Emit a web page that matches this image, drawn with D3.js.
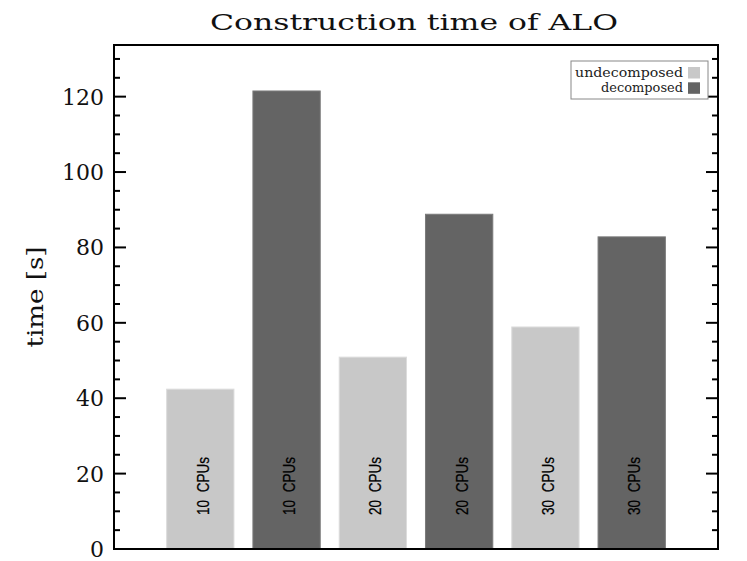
<!DOCTYPE html>
<html><head><meta charset="utf-8">
<script src="https://cdn.jsdelivr.net/npm/d3@7"></script>
<style>body{margin:0;background:#fff}svg{display:block}</style>
</head><body>
<script>
const categories = ["10 CPUs", "20 CPUs", "30 CPUs"];
const seriesNames = ["undecomposed", "decomposed"];
const undecomposed = [42.4, 50.9, 58.9];
const decomposed = [121.5, 88.8, 82.8];
const yTicks = [0, 20, 40, 60, 80, 100, 120];
const colors = ["#c8c8c8", "#646464"];

const W = 747, H = 561;
const L = 114, R = 718, T = 45, B = 549;
const svg = d3.select("body").append("svg").attr("width", W).attr("height", H);

const serif = "'DejaVu Serif', serif";
const x = d3.scaleLinear().domain([0, 7]).range([L, R]);
const y = d3.scaleLinear().domain([0, 133.7]).range([B, T]);
const step = x(1) - x(0);
const bw = step * 0.78;

const bars = [];
categories.forEach((c, i) => {
  bars.push({cat: c, s: 0, v: undecomposed[i], slot: 1 + 2 * i});
  bars.push({cat: c, s: 1, v: decomposed[i], slot: 2 + 2 * i});
});

svg.selectAll("rect.bar").data(bars).enter().append("rect")
  .attr("class", "bar")
  .attr("x", d => x(d.slot) - bw / 2)
  .attr("width", bw)
  .attr("y", d => y(d.v))
  .attr("height", d => y(0) - y(d.v))
  .attr("fill", d => colors[d.s])
  .attr("stroke", d => d.s ? "#7a7a7a" : "#dcdcdc")
  .attr("stroke-width", 1);

// bar labels
const labelVal = 16.7;
svg.selectAll("text.bl").data(bars).enter().append("text")
  .attr("class", "bl")
  .attr("transform", d => `translate(${x(d.slot) + 8.5},${y(labelVal)}) rotate(-90) scale(1,1.2)`)
  .attr("text-anchor", "middle")
  .attr("font-family", "'Liberation Sans', Arial, sans-serif")
  .attr("font-size", 13.5)
  .style("word-spacing", "4px")
  .attr("fill", "#000")
  .attr("stroke", "#000").attr("stroke-width", 0.2)
  .text(d => d.cat);

// frame
svg.append("rect").attr("x", L).attr("y", T).attr("width", R - L).attr("height", B - T)
  .attr("fill", "none").attr("stroke", "#000").attr("stroke-width", 2);

// ticks
const minor = d3.range(0, 131, 5).filter(v => v % 20 !== 0);
const g = svg.append("g").attr("stroke", "#000").attr("stroke-width", 2);
yTicks.forEach(v => {
  g.append("line").attr("x1", L).attr("x2", L + 12).attr("y1", y(v)).attr("y2", y(v));
  g.append("line").attr("x1", R).attr("x2", R - 12).attr("y1", y(v)).attr("y2", y(v));
});
minor.forEach(v => {
  g.append("line").attr("x1", L).attr("x2", L + 6).attr("y1", y(v)).attr("y2", y(v));
  g.append("line").attr("x1", R).attr("x2", R - 6).attr("y1", y(v)).attr("y2", y(v));
});

svg.selectAll("text.yt").data(yTicks).enter().append("text")
  .attr("class", "yt")
  .attr("x", 104).attr("y", d => y(d)).attr("dy", "0.36em")
  .attr("text-anchor", "end")
  .attr("font-family", serif).attr("font-size", 22)
  .attr("fill", "#111")
  .text(d => d);

// y label
svg.append("text")
  .attr("transform", `translate(43,${(T + B) / 2}) rotate(-90)`)
  .attr("text-anchor", "middle")
  .attr("font-family", serif).attr("font-size", 22)
  .attr("fill", "#111")
  .attr("textLength", 101).attr("lengthAdjust", "spacingAndGlyphs")
  .text("time [s]");

// title
svg.append("text")
  .attr("x", 414).attr("y", 30)
  .attr("text-anchor", "middle")
  .attr("font-family", serif).attr("font-size", 23)
  .attr("fill", "#111")
  .attr("textLength", 408).attr("lengthAdjust", "spacingAndGlyphs")
  .text("Construction time of ALO");

// legend
const lg = svg.append("g");
lg.append("rect").attr("x", 571).attr("y", 61).attr("width", 137).attr("height", 38)
  .attr("fill", "#fff").attr("stroke", "#888").attr("stroke-width", 1);
seriesNames.forEach((n, i) => {
  lg.append("rect").attr("x", 688).attr("y", 67 + i * 15.3).attr("width", 12).attr("height", 11.5)
    .attr("fill", colors[i]);
  lg.append("text").attr("x", 683).attr("y", 76.5 + i * 15.3)
    .attr("text-anchor", "end")
    .attr("font-family", serif).attr("font-size", 12.5)
    .attr("textLength", i === 0 ? 108 : 82).attr("lengthAdjust", "spacingAndGlyphs")
    .attr("fill", "#222")
    .text(n);
});
</script>
</body></html>
